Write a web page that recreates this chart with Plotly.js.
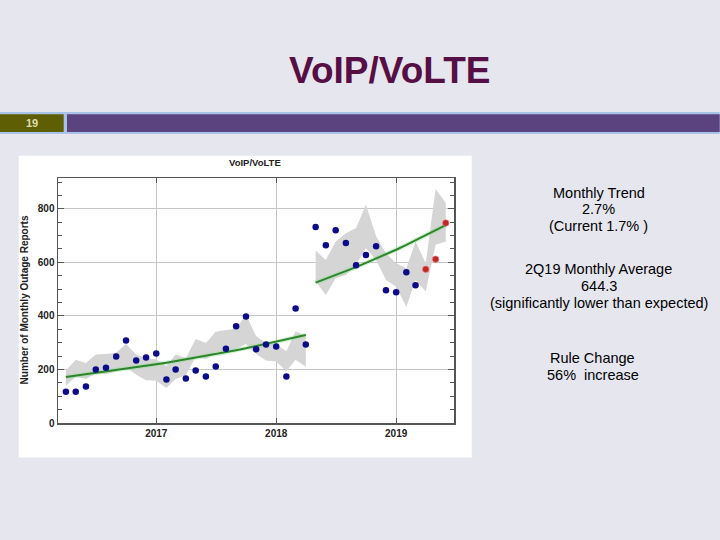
<!DOCTYPE html>
<html>
<head>
<meta charset="utf-8">
<script src="https://cdn.plot.ly/plotly-3.0.1.min.js"></script>
<style>
html,body{margin:0;padding:0;background:#e6e6ef;}
#chart{width:720px;height:540px;}
</style>
</head>
<body>
<div id="chart"></div>
<script>
// ---- data ----
const months = ['2016-04','2016-05','2016-06','2016-07','2016-08','2016-09','2016-10','2016-11','2016-12',
  '2017-01','2017-02','2017-03','2017-04','2017-05','2017-06','2017-07','2017-08','2017-09','2017-10','2017-11','2017-12',
  '2018-01','2018-02','2018-03','2018-04','2018-05','2018-06','2018-07','2018-08','2018-09','2018-10','2018-11','2018-12',
  '2019-01','2019-02','2019-03'];
const reports = [117,117,136,200,206,248,308,233,245,
  260,162,200,166,196,174,211,277,361,398,275,293,
  286,174,428,293,732,664,720,672,589,627,660,496,
  488,563,514];
const q2Months = ['2019-04','2019-05','2019-06'];
const q2Reports = [574,612,747];

const seg1Months = ['2016-04','2016-05','2016-06','2016-07','2016-08','2016-09','2016-10','2016-11','2016-12',
  '2017-01','2017-02','2017-03','2017-04','2017-05','2017-06','2017-07','2017-08','2017-09','2017-10','2017-11','2017-12',
  '2018-01','2018-02','2018-03','2018-04'];
const trend1 = [172,177,181,186,191,196,202,207,213,219,225,231,237,244,250,257,264,272,279,287,295,303,312,320,329];
const band1Upper = [196,236,224,256,258,262,296,256,243,237,212,256,242,314,299,341,347,352,405,324,299,293,268,343,325];
const band1Lower = [139,173,164,185,183,192,208,180,160,158,131,164,178,248,239,264,268,277,295,258,233,230,193,236,210];

const seg2Months = ['2018-05','2018-06','2018-07','2018-08','2018-09','2018-10','2018-11','2018-12',
  '2019-01','2019-02','2019-03','2019-04','2019-05','2019-06'];
const trend2 = [524,538,552,567,582,598,614,630,647,665,682,701,720,739];
const band2Upper = [644,609,678,709,728,815,697,634,597,578,678,597,874,822];
const band2Lower = [528,478,541,553,591,653,609,534,509,434,534,491,666,678];

const yTickVals = [0,200,400,600,800];
const xTickVals = ['2017-01-01','2018-01-01','2019-01-01'];
const xTickText = ['2017','2018','2019'];

// ---- geometry helpers (pixel -> paper) ----
const L = 58.3, R = 454.3, T = 178.3, B = 422.7;
const px = v => (v - L) / (R - L);
const py = v => (B - v) / (B - T);

function bandTrace(xs, up, lo) {
  return {
    x: xs.concat(xs.slice().reverse()),
    y: up.concat(lo.slice().reverse()),
    type: 'scatter', mode: 'lines', fill: 'toself',
    fillcolor: '#d5d5d5', line: {width: 0, color: '#d5d5d5'},
    hoverinfo: 'skip', showlegend: false
  };
}
function glow(xs, ys) {
  return {x: xs, y: ys, type: 'scatter', mode: 'lines',
    line: {color: 'rgba(150,220,150,0.4)', width: 4.5}, showlegend: false, hoverinfo: 'skip'};
}
function trendLine(xs, ys) {
  return {x: xs, y: ys, type: 'scatter', mode: 'lines',
    line: {color: '#2b862b', width: 2}, showlegend: false};
}

const traces = [
  bandTrace(seg1Months, band1Upper, band1Lower),
  bandTrace(seg2Months, band2Upper, band2Lower),
  glow(seg1Months, trend1), glow(seg2Months, trend2),
  trendLine(seg1Months, trend1), trendLine(seg2Months, trend2),
  {x: months, y: reports, type: 'scatter', mode: 'markers',
   marker: {color: '#0c0c8a', size: 6.5}, showlegend: false},
  {x: q2Months, y: q2Reports, type: 'scatter', mode: 'markers',
   marker: {color: '#c02828', size: 6.5, line: {color: 'rgba(240,130,130,0.6)', width: 1}}, showlegend: false}
];

const tfont = {family: 'Liberation Sans, Arial, sans-serif', size: 14.5, color: '#000'};
function note(text, x, y, extra) {
  return Object.assign({text: text, xref: 'paper', yref: 'paper', x: px(x), y: py(y),
    xanchor: 'center', yanchor: 'middle', showarrow: false, font: tfont}, extra || {});
}

const layout = {
  width: 720, height: 540,
  margin: {l: L, r: 720 - R, t: T, b: 540 - B, pad: 0},
  paper_bgcolor: '#e6e6ef', plot_bgcolor: '#ffffff',
  showlegend: false,
  xaxis: {
    type: 'date', range: ['2016-03-08', '2019-06-26'],
    tickvals: xTickVals, ticktext: xTickText,
    showgrid: true, gridcolor: '#c6c6c6', gridwidth: 1,
    ticks: 'inside', ticklen: 5, tickcolor: '#555',
    showline: true, linecolor: '#555', linewidth: 1.5, mirror: 'allticks',
    zeroline: false,
    tickfont: {family: 'Liberation Sans, Arial, sans-serif', size: 10, color: '#222', weight: 'bold'}
  },
  yaxis: {
    range: [0, 915], tickvals: yTickVals,
    showgrid: true, gridcolor: '#c6c6c6', gridwidth: 1,
    ticks: 'inside', ticklen: 6, tickcolor: '#555',
    minor: {dtick: 50, tick0: 0, ticks: 'inside', ticklen: 4, tickcolor: '#555', showgrid: false},
    showline: true, linecolor: '#555', linewidth: 1.5, mirror: 'allticks',
    zeroline: false,
    tickfont: {family: 'Liberation Sans, Arial, sans-serif', size: 10, color: '#222', weight: 'bold'}
  },
  shapes: [
    // white chart card
    {type: 'rect', xref: 'paper', yref: 'paper', x0: px(19), x1: px(472), y0: py(457), y1: py(156),
     fillcolor: '#ffffff', line: {width: 0}, layer: 'below'},
    // header strip
    {type: 'rect', xref: 'paper', yref: 'paper', x0: px(0), x1: px(720), y0: py(134.5), y1: py(112.5),
     fillcolor: '#a9c3e8', line: {width: 0}, layer: 'below'},
    {type: 'rect', xref: 'paper', yref: 'paper', x0: px(0), x1: px(64), y0: py(132.3), y1: py(114.7),
     fillcolor: '#5e5f05', line: {width: 0}, layer: 'below'},
    {type: 'rect', xref: 'paper', yref: 'paper', x0: px(67.3), x1: px(720), y0: py(132.3), y1: py(114.7),
     fillcolor: '#5a437f', line: {width: 0}, layer: 'below'}
  ],
  annotations: [
    note('VoIP/VoLTE', 390, 71, {font: {family: 'Liberation Sans, Arial, sans-serif', size: 37, color: '#560f44', weight: 'bold'}}),
    note('19', 32, 123.5, {font: {family: 'Liberation Sans, Arial, sans-serif', size: 11, color: '#e0dcb0', weight: 'bold'}}),
    note('VoIP/VoLTE', 255, 162.7, {font: {family: 'Liberation Sans, Arial, sans-serif', size: 9.5, color: '#222', weight: 'bold'}}),
    note('Number of Monthly Outage Reports', 25.7, 300, {textangle: -90,
      font: {family: 'Liberation Sans, Arial, sans-serif', size: 10, color: '#222', weight: 'bold'}}),
    note('Monthly Trend', 599, 193), note('2.7%', 599, 209.5), note('(Current 1.7% )', 599, 226),
    note('2Q19 Monthly Average', 599, 269), note('644.3', 599, 286), note('(significantly lower than expected)', 599, 303),
    note('Rule Change', 593, 358), note('56%  increase', 593, 374.5)
  ]
};

Plotly.newPlot('chart', traces, layout, {displayModeBar: false, staticPlot: true});
</script>
</body>
</html>
